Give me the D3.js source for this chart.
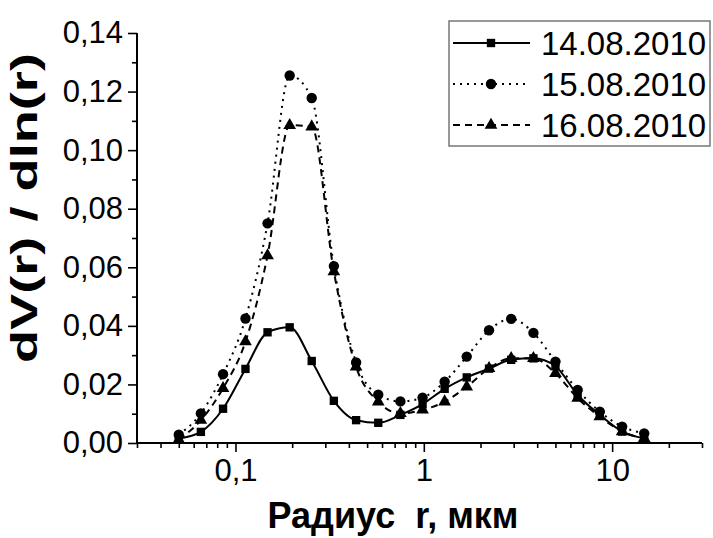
<!DOCTYPE html>
<html>
<head>
<meta charset="utf-8">
<script src="https://cdn.jsdelivr.net/npm/d3@7"></script>
<style>
  body { margin: 0; background: #fff; }
  svg { display: block; font-family: "Liberation Sans", Arial, sans-serif; }
</style>
</head>
<body>
<svg id="chart-svg" width="713" height="538"></svg>
<script>
// Radius values (мкм)
const radius = [0.05, 0.0655, 0.0859, 0.113, 0.148, 0.194, 0.254, 0.333, 0.437, 0.573, 0.751,
                0.985, 1.29, 1.69, 2.22, 2.91, 3.82, 5.0, 6.56, 8.6, 11.3, 14.8];

// dV(r)/dln(r) for each date
const aug14 = [0.0015, 0.0038, 0.0117, 0.0253, 0.0378, 0.0395, 0.028, 0.0144, 0.0078, 0.0069, 0.0096,
               0.0133, 0.0185, 0.0224, 0.0254, 0.0284, 0.0289, 0.0262, 0.0164, 0.0096, 0.0039, 0.0016];
const aug15 = [0.0028, 0.0101, 0.0235, 0.0425, 0.075, 0.1255, 0.1178, 0.0604, 0.0275, 0.0165, 0.0142,
               0.0155, 0.0209, 0.0295, 0.0385, 0.0424, 0.0376, 0.0278, 0.0181, 0.0107, 0.0056, 0.0033];
const aug16 = [0.0012, 0.0078, 0.0187, 0.0346, 0.064, 0.1085, 0.108, 0.0585, 0.026, 0.0141, 0.0101,
               0.0113, 0.0141, 0.0192, 0.0255, 0.0289, 0.0289, 0.0238, 0.0153, 0.009, 0.0039, 0.0016];

const seriesNames = ["14.08.2010", "15.08.2010", "16.08.2010"];

// Tick values
const xMajorTicks = [0.1, 1, 10];
const xMinorTicks = [0.03, 0.04, 0.05, 0.06, 0.07, 0.08, 0.09,
                     0.2, 0.3, 0.4, 0.5, 0.6, 0.7, 0.8, 0.9,
                     2, 3, 4, 5, 6, 7, 8, 9, 20, 30];
const yMajorTicks = [0, 0.02, 0.04, 0.06, 0.08, 0.10, 0.12, 0.14];
const yMinorTicks = [0.01, 0.03, 0.05, 0.07, 0.09, 0.11, 0.13];

const svg = d3.select('#chart-svg');

// Plot area
const plot = {left: 137, right: 702, top: 33, bottom: 443};

const xScale = d3.scaleLog().domain([0.03, 30]).range([plot.left, plot.right]);
const yScale = d3.scaleLinear().domain([0, 0.14]).range([plot.bottom, plot.top]);

const comma = s => s.replace('.', ',');

// Y axis
const yAxis = svg.append("g").attr("transform", "translate(" + plot.left + ",0)");
yAxis.call(d3.axisLeft(yScale).tickValues(yMajorTicks).tickSize(9).tickPadding(5)
    .tickFormat(d => comma(d3.format(".2f")(d))));
yAxis.append("g").call(d3.axisLeft(yScale).tickValues(yMinorTicks).tickSize(5).tickFormat(""));
yAxis.selectAll(".domain").attr("stroke-width", 2).attr("d", "M0," + plot.top + "V" + plot.bottom);
yAxis.selectAll(".tick line").attr("stroke-width", 1.6);
yAxis.selectAll(".tick text").attr("font-size", 31).attr("fill", "#000")
    .attr("font-family", "Liberation Sans, Arial, sans-serif");

// X axis
const xAxis = svg.append("g").attr("transform", "translate(0," + plot.bottom + ")");
xAxis.call(d3.axisBottom(xScale).tickValues(xMajorTicks).tickSize(9).tickPadding(7)
    .tickFormat(d => comma(String(d))));
xAxis.append("g").call(d3.axisBottom(xScale).tickValues(xMinorTicks).tickSize(5).tickFormat(""));
xAxis.selectAll(".domain").attr("stroke-width", 2).attr("d", "M" + plot.left + ",0H" + plot.right);
xAxis.selectAll(".tick line").attr("stroke-width", 1.6);
xAxis.selectAll(".tick text").attr("font-size", 31).attr("fill", "#000")
    .attr("font-family", "Liberation Sans, Arial, sans-serif");

// Axis titles
svg.append("text")
    .attr("x", 393).attr("y", 528)
    .attr("text-anchor", "middle")
    .attr("font-size", 36).attr("font-weight", "bold")
    .style("white-space", "pre")
    .text("Радиус  r, мкм");

svg.append("text")
    .attr("transform", "translate(37,208) rotate(-90)")
    .attr("text-anchor", "middle")
    .attr("font-size", 36).attr("font-weight", "bold")
    .attr("textLength", 310).attr("lengthAdjust", "spacingAndGlyphs")
    .text("dV(r) / dln(r)");

// Series definitions
const series = [
    {name: seriesNames[0], values: aug14, dash: null, marker: d3.symbolSquare, size: 70},
    {name: seriesNames[1], values: aug15, dash: "2,5", marker: d3.symbolCircle, size: 85},
    {name: seriesNames[2], values: aug16, dash: "7,5", marker: d3.symbolTriangle, size: 70}
];

const line = d3.line()
    .x(d => xScale(d[0]))
    .y(d => yScale(d[1]))
    .curve(d3.curveMonotoneX);

series.forEach(s => {
    const pts = radius.map((r, i) => [r, s.values[i]]);
    svg.append("path")
        .datum(pts)
        .attr("fill", "none")
        .attr("stroke", "#000")
        .attr("stroke-width", 2)
        .attr("stroke-dasharray", s.dash)
        .attr("d", line);
    svg.append("g").selectAll("path")
        .data(pts)
        .join("path")
        .attr("transform", d => "translate(" + xScale(d[0]) + "," + yScale(d[1]) + ")")
        .attr("d", d3.symbol().type(s.marker).size(s.size))
        .attr("fill", "#000");
});

// Legend
const legend = svg.append("g");
legend.append("rect")
    .attr("x", 449).attr("y", 21)
    .attr("width", 261).attr("height", 125)
    .attr("fill", "#fff")
    .attr("stroke", "#777").attr("stroke-width", 1.5);

series.forEach((s, i) => {
    const y = 43 + i * 41;
    legend.append("line")
        .attr("x1", 453).attr("x2", 530)
        .attr("y1", y).attr("y2", y)
        .attr("stroke", "#000").attr("stroke-width", 2)
        .attr("stroke-dasharray", s.dash);
    legend.append("path")
        .attr("transform", "translate(491," + y + ")")
        .attr("d", d3.symbol().type(s.marker).size(s.size))
        .attr("fill", "#000");
    legend.append("text")
        .attr("x", 541).attr("y", y)
        .attr("dy", "0.36em")
        .attr("font-size", 33)
        .text(s.name);
});
</script>
</body>
</html>
